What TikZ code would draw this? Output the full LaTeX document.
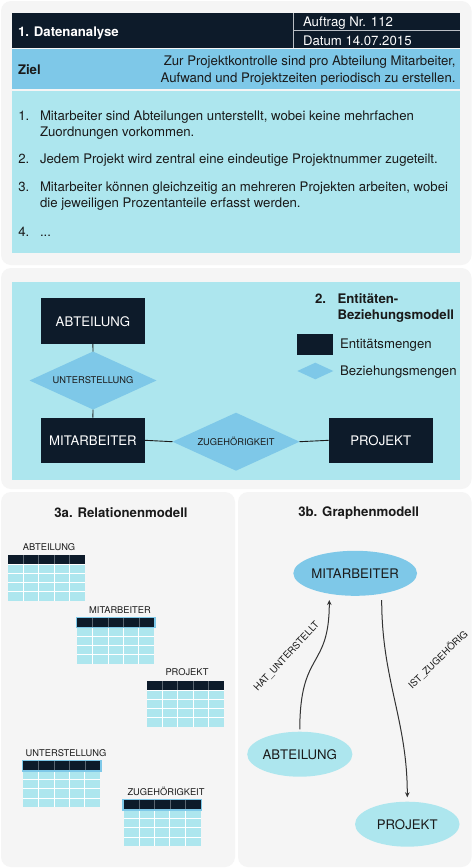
\documentclass[tikz,border=0pt]{standalone}
\usepackage{fontspec}
\setmainfont{TeX Gyre Heros}
\usetikzlibrary{shapes.geometric,arrows.meta}
\definecolor{navy}{HTML}{0D1B2A}
\definecolor{sky}{HTML}{7EC8E8}
\definecolor{cyanl}{HTML}{ADE6EE}
\definecolor{panel}{HTML}{F5F5F5}
\definecolor{ink}{HTML}{1A1A1A}
\definecolor{edgec}{HTML}{333333}
\definecolor{hdrline}{HTML}{5A6570}
\definecolor{sepline}{HTML}{B8BEC4}
\newcommand\reltab[3]{%
  \begin{scope}[shift={(#1,#2)}]
    \fill[navy] (0,0) rectangle (77,9.2);
    \fill[cyanl] (0,9.2) rectangle (77,46);
    \foreach \k in {1,2,3,4}{
      \draw[hdrline, line width=0.7pt] (15.4*\k,0) -- (15.4*\k,9.2);
      \draw[white, line width=1pt] (15.4*\k,9.2) -- (15.4*\k,46);
    }
    \foreach \k in {0,1,2,3}{
      \draw[white, line width=1pt] (0,9.2+9.2*\k) -- (77,9.2+9.2*\k);
    }
    \ifnum#3=1 \draw[sky, line width=1.3pt] (-0.6,-0.6) rectangle (77.6,9.8);\fi
  \end{scope}}
\begin{document}
\begin{tikzpicture}[x=1pt,y=-1pt,
  base/.style={inner sep=0pt, outer sep=0pt},
  body/.style={base, font=\fontsize{13.2}{16}\selectfont, text=ink},
  bodyb/.style={base, font=\fontsize{13.2}{16}\selectfont\bfseries, text=ink},
  whitetxt/.style={base, font=\fontsize{13.2}{16}\selectfont, text=white},
  smalltxt/.style={base, font=\fontsize{9.3}{11}\selectfont, text=ink},
  edgetxt/.style={base, font=\fontsize{9.6}{11}\selectfont, text=ink},
  entity/.style={base, fill=navy, text=white, font=\fontsize{13.2}{16}\selectfont, minimum width=104.3pt, minimum height=45.5pt},
  relation/.style={base, diamond, fill=sky, minimum width=127pt, minimum height=58pt},
  gnode/.style={base, ellipse, font=\fontsize{13.2}{16}\selectfont, text=ink, minimum width=104.5pt, minimum height=45pt},
  conn/.style={draw=ink, line width=0.9pt},
  arr/.style={draw=edgec, line width=1pt, -{Stealth[length=5pt,width=4.5pt]}},
  panelbg/.style={fill=panel, rounded corners=10pt}
]
\useasboundingbox (0,0) rectangle (473,868);
\fill[white] (0,0) rectangle (473,868);
% panels
\fill[panelbg] (1,1) rectangle (471.5,265);
\fill[panelbg] (1,268) rectangle (471.5,489);
\fill[panelbg] (1,492) rectangle (235,867);
\fill[panelbg] (238,492) rectangle (471.5,867);

% ---------- panel 1 ----------
\fill[navy] (12,13.3) rectangle (460,48.3);
\draw[sepline, line width=0.9pt] (293.5,13.3) -- (293.5,48.3);
\draw[sepline, line width=0.9pt] (293.5,30.7) -- (460,30.7);
\fill[sky] (12,49.3) rectangle (460,89.3);
\fill[cyanl] (12,90.5) rectangle (460,253);

\node[whitetxt, font=\fontsize{13.2}{16}\selectfont\bfseries, anchor=base west] (h1) at (18,36) {1. Datenanalyse};
\node[whitetxt, anchor=base west] (h2) at (303,26.7) {Auftrag Nr. 112};
\node[whitetxt, anchor=base west] (h3) at (303,45) {Datum 14.07.2015};
\node[bodyb, anchor=base west] (ziel) at (18,74) {Ziel};
\node[body, anchor=base east] (z1) at (455.5,65) {Zur Projektkontrolle sind pro Abteilung Mitarbeiter,};
\node[body, anchor=base east] (z2) at (455.5,82) {Aufwand und Projektzeiten periodisch zu erstellen.};

\node[body, anchor=base west] (n1) at (18.3,120) {1.};
\node[body, anchor=base west] (t1a) at (40,120) {Mitarbeiter sind Abteilungen unterstellt, wobei keine mehrfachen};
\node[body, anchor=base west] (t1b) at (40,136) {Zuordnungen vorkommen.};
\node[body, anchor=base west] (n2) at (18.3,163) {2.};
\node[body, anchor=base west] (t2) at (40,163) {Jedem Projekt wird zentral eine eindeutige Projektnummer zugeteilt.};
\node[body, anchor=base west] (n3) at (18.3,191) {3.};
\node[body, anchor=base west] (t3a) at (40,191) {Mitarbeiter können gleichzeitig an mehreren Projekten arbeiten, wobei};
\node[body, anchor=base west] (t3b) at (40,207) {die jeweiligen Prozentanteile erfasst werden.};
\node[body, anchor=base west] (n4) at (18.3,236) {4.};
\node[body, anchor=base west] (t4) at (40,236) {...};

% ---------- panel 2 ----------
\fill[cyanl] (12,281.7) rectangle (460,480);
\node[entity] (abt) at (92.9,321.2) {ABTEILUNG};
\node[relation] (unt) at (93,380.5) {};
\node[smalltxt] (untl) at (unt) {UNTERSTELLUNG};
\node[entity] (mit) at (92.9,440.3) {MITARBEITER};
\node[relation] (zug) at (236,441.7) {};
\node[smalltxt] (zugl) at (zug) {ZUGEHÖRIGKEIT};
\node[entity] (proj) at (380.8,440.3) {PROJEKT};
\draw[conn] (abt.south) -- (unt.north);
\draw[conn] (unt.south) -- (mit.north);
\draw[conn] (mit.east) -- (zug.west);
\draw[conn] (zug.east) -- (proj.west);

\node[bodyb, anchor=base west] (l2) at (315,303.3) {2.};
\node[bodyb, anchor=base west] (l2a) at (337.5,303.3) {Entitäten-};
\node[bodyb, anchor=base west] (l2b) at (337.5,319.3) {Beziehungsmodell};
\node[base, fill=navy, minimum width=36pt, minimum height=20.7pt] (lrect) at (315.3,344.7) {};
\node[body, anchor=base west] (lent) at (340,348.3) {Entitätsmengen};
\node[base, diamond, fill=sky, minimum width=36pt, minimum height=16.6pt] (ldia) at (315.3,371) {};
\node[body, anchor=base west] (lbez) at (340,375) {Beziehungsmengen};

% ---------- panel 3a ----------
\node[bodyb, anchor=base] (t3atitle) at (121,517.3) {3a. Relationenmodell};
\node[smalltxt, anchor=base] (ra) at (49,550.7) {ABTEILUNG};
\reltab{8}{555}{0}
\node[smalltxt, anchor=base] (rm) at (120,613.3) {MITARBEITER};
\reltab{77.3}{618}{1}
\node[smalltxt, anchor=base] (rp) at (187,675.7) {PROJEKT};
\reltab{146.8}{681}{0}
\node[smalltxt, anchor=base] (ru) at (66,756.7) {UNTERSTELLUNG};
\reltab{23.3}{761.3}{1}
\node[smalltxt, anchor=base] (rz) at (166,795.7) {ZUGEHÖRIGKEIT};
\reltab{123.7}{800.3}{1}

% ---------- panel 3b ----------
\node[bodyb, anchor=base] (t3btitle) at (358.7,516.7) {3b. Graphenmodell};
\node[gnode, fill=sky] (gmit) at (355.2,573.3) {MITARBEITER};
\node[gnode, fill=cyanl] (gabt) at (299.8,754.2) {ABTEILUNG};
\node[gnode, fill=cyanl] (gproj) at (407.3,824.2) {PROJEKT};
\coordinate (hTip) at (329.3,600);
\coordinate (iStart) at (381.7,600);
\draw[arr, shorten <=2.4pt] (gabt.north) .. controls (299.8,650) and (329.3,670) .. (hTip);
\draw[arr, shorten >=4.4pt] (iStart) .. controls (381.7,680) and (407.3,720) .. (gproj.north);
\node[edgetxt, rotate=47] (lhat) at (286.8,656.7) {HAT\_UNTERSTELLT};
\node[edgetxt, rotate=44] (list) at (438,659.5) {IST\_ZUGEHÖRIG};
\end{tikzpicture}
\end{document}
